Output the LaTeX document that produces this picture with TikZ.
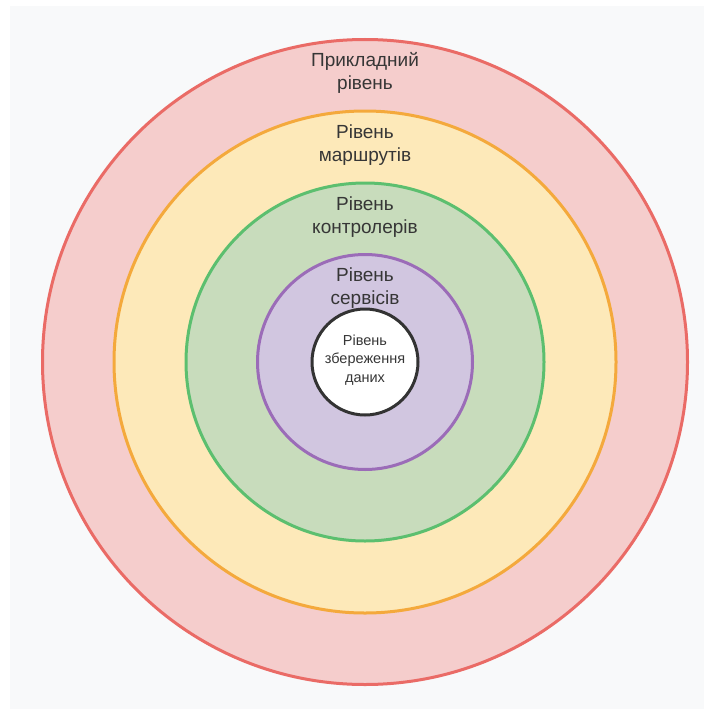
\documentclass[tikz,border=0pt]{standalone}
\usepackage{fontspec}
\setmainfont{Liberation Sans}
\definecolor{bgpanel}{HTML}{F8F9FA}
\definecolor{appfill}{HTML}{F5CDCC}
\definecolor{appline}{HTML}{EA6B66}
\definecolor{routefill}{HTML}{FDE9B9}
\definecolor{routeline}{HTML}{F4A93C}
\definecolor{ctrlfill}{HTML}{C8DCBC}
\definecolor{ctrlline}{HTML}{5CBF6F}
\definecolor{svcfill}{HTML}{D1C6E0}
\definecolor{svcline}{HTML}{9B6CB8}
\definecolor{txt}{HTML}{363636}
\tikzset{
  ring/.style={circle, line width=3pt, inner sep=0pt},
  lbl/.style={text=txt, font=\fontsize{19}{22.5}\selectfont, align=center},
  smalllbl/.style={text=txt, font=\fontsize{14.5}{18.5}\selectfont, align=center}
}
\begin{document}
\begin{tikzpicture}[x=1pt,y=-1pt]
  \useasboundingbox (0,0) rectangle (704,709);
  \fill[white] (0,0) rectangle (704,709);
  \fill[bgpanel] (10,6) rectangle (704,709);
  % concentric layers, outermost first
  \node[ring, draw=appline, fill=appfill, minimum size=645pt] (app) at (365,362) {};
  \node[ring, draw=routeline, fill=routefill, minimum size=502pt] (route) at (365,362) {};
  \node[ring, draw=ctrlline, fill=ctrlfill, minimum size=358pt] (ctrl) at (365,362) {};
  \node[ring, draw=svcline, fill=svcfill, minimum size=215pt] (svc) at (365,362) {};
  \node[ring, draw=black!80, fill=white, minimum size=106pt] (data) at (365,362) {};
  % layer names
  \node[lbl] (applbl) at (365,73) {Прикладний\\рівень};
  \node[lbl] (routelbl) at (365,145) {Рівень\\маршрутів};
  \node[lbl] (ctrllbl) at (365,217) {Рівень\\контролерів};
  \node[lbl] (svclbl) at (365,288) {Рівень\\сервісів};
  \node[smalllbl] (datalbl) at (365,360) {Рівень\\збереження\\даних};
\end{tikzpicture}
\end{document}
